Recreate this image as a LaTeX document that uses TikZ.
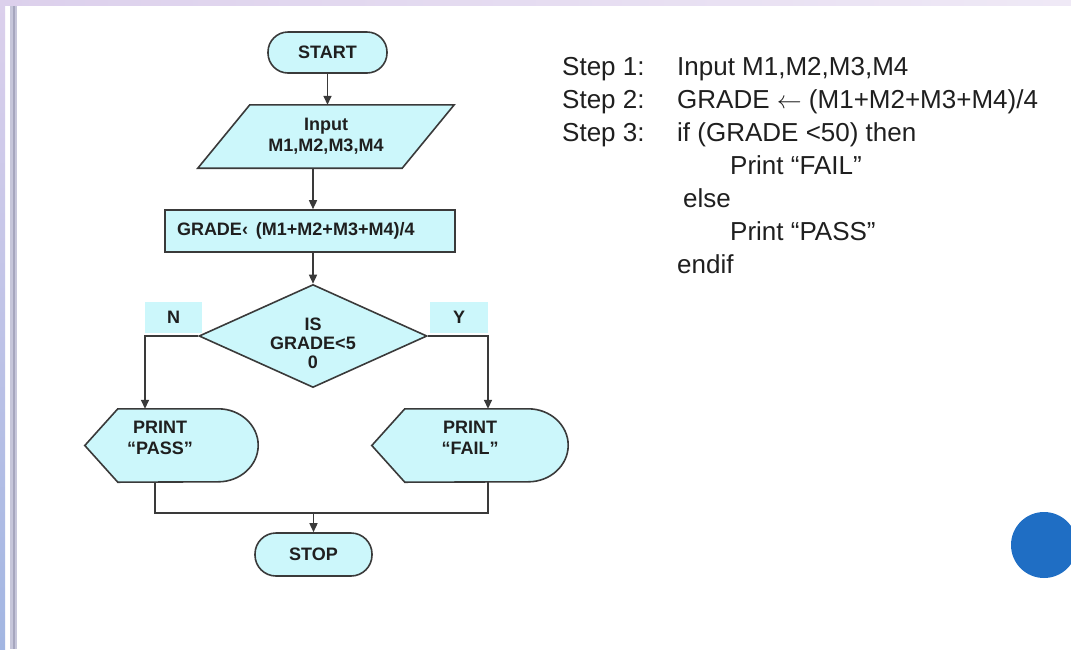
\documentclass[tikz,border=0pt]{standalone}
\usepackage{fontspec}
\setmainfont{Liberation Sans}
\usetikzlibrary{shapes.geometric,arrows.meta,calc}

\definecolor{boxfill}{HTML}{CCF7FB}
\definecolor{edgegrey}{HTML}{3A3A3A}
\definecolor{inkdark}{HTML}{1F1F1F}
\definecolor{lavtop}{HTML}{DCD0EC}
\definecolor{lavlight}{HTML}{EFE9F6}
\definecolor{bandblue}{HTML}{A2B6E2}
\definecolor{stripeout}{HTML}{C6C6DA}
\definecolor{stripein}{HTML}{A6A6BE}
\definecolor{dotblue}{HTML}{1F6EC4}

\begin{document}
\begin{tikzpicture}[x=1pt, y=-1pt,
  flowline/.style={draw=edgegrey, line width=1.5pt},
  arrowline/.style={flowline, -{Triangle[length=9pt,width=8pt]}},
  shapeedge/.style={draw=edgegrey, line width=1.6pt, fill=boxfill},
  chart/.style={font=\fontsize{18}{21}\selectfont\bfseries, text=inkdark, align=center},
  terminal/.style={shapeedge, chart, rectangle, rounded corners=20pt, inner sep=0pt},
  frame/.style={rectangle, inner sep=0pt},
  tag/.style={fill=boxfill, chart, inner sep=0pt, minimum width=57.5pt, minimum height=31pt},
  steptext/.style={anchor=base west, font=\fontsize{26}{30}\selectfont, text=inkdark, inner sep=0pt},
]
\useasboundingbox (0,0) rectangle (1071,649);

% page background and side bands
\fill[white] (0,0) rectangle (1071,649);
\shade[left color=lavtop, right color=lavlight] (0,0) rectangle (1071,5.5);
\shade[top color=lavtop, bottom color=bandblue] (0,0) rectangle (5,649);
\fill[stripeout] (10,5.5) rectangle (16.5,649);
\fill[stripein] (12.5,5.5) rectangle (14.5,649);
\fill[dotblue] (1044,545) circle[radius=33pt];

% terminals
\node[terminal, minimum width=119pt, minimum height=41pt] (start) at (327.5,52.5) {START};
\node[terminal, minimum width=117pt, minimum height=43pt, rounded corners=21pt] (stop) at (313.5,554.5) {STOP};

% input parallelogram
\node[frame, minimum width=256pt, minimum height=63pt] (inp) at (326,136.5) {};
\path[shapeedge] ($(inp.north west)+(52,0)$) -- (inp.north east) -- ($(inp.south east)+(-52,0)$) -- (inp.south west) -- cycle;
\node[chart] (inptxt) at (inp.center) {Input\\M1,M2,M3,M4};

% process box
\node[shapeedge, chart, rectangle, minimum height=42pt, text width=266pt, inner xsep=12pt, inner ysep=0pt, align=left] (grade) at (310,231) {GRADE‹\hspace{8pt}(M1+M2+M3+M4)/4};

% branch tags and decision
\node[tag] (no) at (173.5,317.5) {N};
\node[tag] (yes) at (459,317.5) {Y};
\node[shapeedge, diamond, shape aspect=2.2, minimum width=228pt, minimum height=103pt, inner sep=0pt] (test) at (313,336) {};
\node[chart, inner sep=0pt, font=\fontsize{18}{19}\selectfont\bfseries] (testtxt) at (313,343) {IS\\GRADE<5\\0};

% display symbols
\node[frame, minimum width=173pt, minimum height=73pt] (pass) at (171.5,445.5) {};
\node[frame, minimum width=196pt, minimum height=73pt] (fail) at (470,445.5) {};
\path[shapeedge] (pass.west) -- ($(pass.north west)+(33,0)$) -- ($(pass.north east)+(-40,0)$)
  arc[start angle=90, end angle=-90, x radius=40pt, y radius=36.5pt] -- ($(pass.south west)+(33,0)$) -- cycle;
\path[shapeedge] (fail.west) -- ($(fail.north west)+(33,0)$) -- ($(fail.north east)+(-40,0)$)
  arc[start angle=90, end angle=-90, x radius=40pt, y radius=36.5pt] -- ($(fail.south west)+(33,0)$) -- cycle;
\node[chart] (passtxt) at (160,437.5) {PRINT\\“PASS”};
\node[chart] (failtxt) at (470,437.5) {PRINT\\“FAIL”};

% connectors
\draw[arrowline] (start.south) -- (start.south |- inp.north);
\draw[arrowline] (test.north |- inp.south) -- (test.north |- grade.north);
\draw[arrowline] (test.north |- grade.south) -- (test.north);
\coordinate (leftrun) at (145,336);
\coordinate (rightrun) at (488,336);
\draw[arrowline] (test.west) -- (leftrun) -- (leftrun |- pass.north);
\draw[arrowline] (test.east) -- (rightrun) -- (rightrun |- fail.north);
\coordinate (joinL) at (155,513);
\coordinate (joinR) at (488,513);
\draw[flowline] (joinL |- pass.south) -- (joinL) -- (joinR) -- (joinR |- fail.south);
\draw[arrowline] (stop.north |- joinL) -- (stop.north);

% pseudocode
\node[steptext] (s1) at (562,75) {Step 1:};
\node[steptext] (c1) at (677,75) {Input M1,M2,M3,M4};
\node[steptext] (s2) at (562,108) {Step 2:};
\node[steptext] (c2) at (677,108) {GRADE \ensuremath{\leftarrow} (M1+M2+M3+M4)/4};
\node[steptext] (s3) at (562,141) {Step 3:};
\node[steptext] (c3) at (677,141) {if (GRADE <50) then};
\node[steptext] (c4) at (730,174) {Print “FAIL”};
\node[steptext] (c5) at (683,207) {else};
\node[steptext] (c6) at (730,240) {Print “PASS”};
\node[steptext] (c7) at (677,273) {endif};
\end{tikzpicture}
\end{document}
